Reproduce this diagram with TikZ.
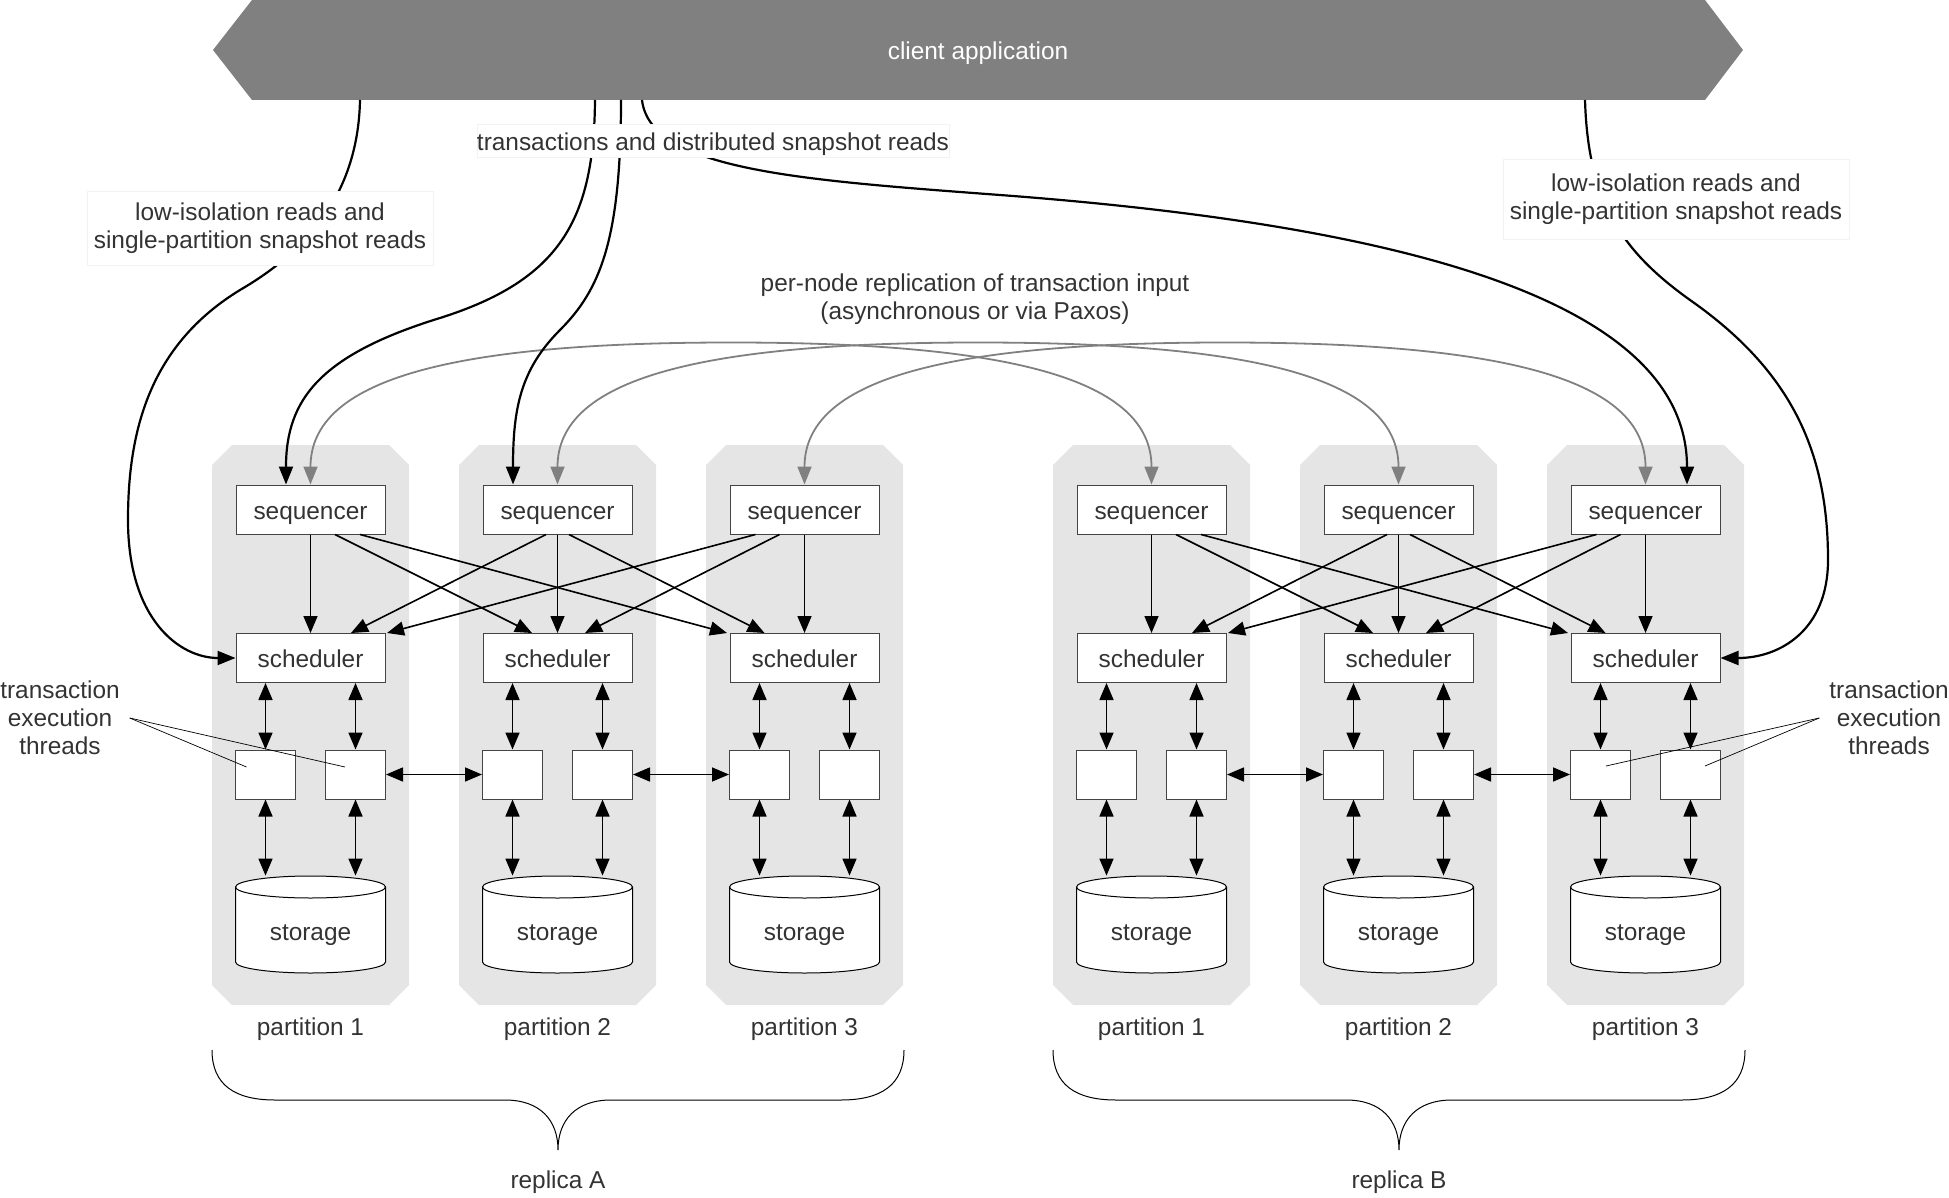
\documentclass[tikz,border=0pt]{standalone}
\usepackage{fontspec}
\setmainfont{Liberation Sans}
\usetikzlibrary{arrows.meta,calc}
\definecolor{banner}{HTML}{808080}
\definecolor{colfill}{HTML}{E5E5E5}
\definecolor{txt}{HTML}{333333}
\definecolor{edge}{HTML}{444444}

\begin{document}
\begin{tikzpicture}[x=0.5pt, y=-0.5pt, font=\fontsize{12.2}{14}\selectfont, text=txt,
		>={Triangle[length=8.5pt,width=7pt]},
		line/.style={text height=9.8pt, text depth=0pt},
		box/.style={line, draw=edge, fill=white, line width=0.5pt, minimum width=74.5pt, minimum height=24.5pt, inner sep=0pt},
		thread/.style={draw=edge, fill=white, line width=0.5pt, minimum width=30pt, minimum height=24.5pt, inner sep=0pt},
		store/.style={minimum width=75pt, minimum height=48.5pt, inner sep=0pt, text height=16.3pt, text depth=0pt},
		cyl/.style={draw=black, fill=white, line width=0.5pt},
		col/.style={fill=colfill},
		link/.style={line width=0.8pt},
		req/.style={line width=1.1pt, -{Triangle[length=9pt,width=7pt]}},
		repl/.style={draw=banner, line width=0.9pt, {Triangle[length=9pt,width=7pt]}-{Triangle[length=9pt,width=7pt]}},
		lbl/.style={fill=white, draw=black!5, inner sep=0pt, align=center},
		ptr/.style={line width=0.35pt},
		brace/.style={line width=0.5pt}]
		\useasboundingbox (0,0) rectangle (1949,1198);

		% Client
		\fill[banner] (213,50) -- (252,0) -- (1705,0) -- (1743,50) -- (1705,100) -- (252,100) -- cycle;
		\node[line, text=white] at (978,50) (client) {client application};
		\coordinate (cA) at (360,100);
		\coordinate (c1) at (595,100);
		\coordinate (c2) at (621,100);
		\coordinate (c3) at (642,100);
		\coordinate (cB) at (1585,100);

		% Partitions
		\foreach \r/\x in {A/0,B/841} {
			\foreach \i in {1,2,3} {
				\pgfmathsetmacro\cx{63.5+247*\i+\x}
				\fill[col] ({\cx-98.5},465) -- ({\cx-78.5},445) -- ({\cx+78.5},445) -- ({\cx+98.5},465)
					-- ({\cx+98.5},985) -- ({\cx+78.5},1005) -- ({\cx-78.5},1005) -- ({\cx-98.5},985) -- cycle;
				\node[box] at (\cx,509.5) (seq\r\i) {sequencer};
				\node[box] at (\cx,658) (sch\r\i) {scheduler};
				\node[thread] at ({\cx-45},774.5) (thl\r\i) {};
				\node[thread] at ({\cx+45},774.5) (thr\r\i) {};
				\draw[cyl] ({\cx-75},887) -- ({\cx-75},962) arc[start angle=180, end angle=0, x radius=75, y radius=11]
					-- ({\cx+75},887) arc[start angle=0, end angle=-180, x radius=75, y radius=11] -- cycle;
				\draw[cyl] ({\cx-75},887) arc[start angle=180, end angle=0, x radius=75, y radius=11];
				\node[store] at (\cx,924.5) (sto\r\i) {storage};
				\node[line] at (\cx,1025.5) (par\r\i) {partition \i};
				\draw[link, <->] (sch\r\i.south -| thl\r\i) -- (thl\r\i);
				\draw[link, <->] (sch\r\i.south -| thr\r\i) -- (thr\r\i);
				\draw[link, <->] (thl\r\i) -- (sto\r\i.north -| thl\r\i);
				\draw[link, <->] (thr\r\i) -- (sto\r\i.north -| thr\r\i);
			}
			\foreach \i/\j/\s/\e in {1/1/0/0, 1/2/24.5/-25.5, 1/3/49.5/-77.5, 2/1/-11.5/40.5, 2/2/0/0,
					2/3/11.5/-40, 3/1/-49/76.5, 3/2/-25/27.5, 3/3/0/0}
				\draw[link, ->] ($(seq\r\i.south)+(\s,0)$) -- ($(sch\r\j.north)+(\e,0)$);
			\draw[link, <->] (thr\r1) -- (thl\r2);
			\draw[link, <->] (thr\r2) -- (thl\r3);

			% Accolade
			\draw[brace] ({\x+212},1050) .. controls ({\x+212},1085) and ({\x+235},1100) .. ({\x+275},1100)
				-- ({\x+505},1100) .. controls ({\x+540},1100) and ({\x+558},1120) .. ({\x+558},1150)
				.. controls ({\x+558},1120) and ({\x+576},1100) .. ({\x+611},1100)
				-- ({\x+841},1100) .. controls ({\x+881},1100) and ({\x+904},1085) .. ({\x+904},1050);
			\node[line] at ({\x+558},1179) (rep\r) {replica \r};
		}

		% Replication
		\foreach \i in {1,2,3}
			\draw[repl] (seqA\i.north) .. controls +(0,-105) and +(-281,0) ..
				($(seqA\i.north)!.5!(seqB\i.north)+(0,-142)$) .. controls +(281,0) and +(0,-105) .. (seqB\i.north);
		\node[align=center] at (975,299) (rtxt) {per-node replication of transaction input\\(asynchronous or via Paxos)};

		% Requetes
		\draw[req] (c1) .. controls (594,220) and (560,280) .. (440,318)
			.. controls (320,355) and ($(seqA1.north)+(-24.5,-85)$) .. ($(seqA1.north)+(-24.5,0)$);
		\draw[req] (c2) .. controls (621,240) and (600,290) .. (560,330)
			.. controls (520,370) and ($(seqA2.north)+(-44.5,-75)$) .. ($(seqA2.north)+(-44.5,0)$);
		\draw[req] (c3) .. controls (650,170) and (800,180) .. (1000,195)
			.. controls (1400,225) and ($(seqB3.north)+(41.5,-185)$) .. ($(seqB3.north)+(41.5,0)$);
		\draw[req] (cA) .. controls (358,200) and (300,255) .. (240,290)
			.. controls (150,345) and (128,430) .. (128,520) .. controls (128,620) and (180,658) .. (schA1.west);
		\draw[req] (cB) .. controls (1588,200) and (1620,250) .. (1690,300)
			.. controls (1790,370) and (1828,450) .. (1828,560) .. controls (1828,630) and (1780,658) .. (schB3.east);

		% Etiquettes
		\node[lbl, line, minimum height=16.5pt] at (713,140.5) (txn) {transactions and distributed snapshot reads};
		\node[lbl, minimum width=173pt, minimum height=37pt] at (260,228) (lowA) {low-isolation reads and\\single-partition snapshot reads};
		\node[lbl, minimum width=173pt, minimum height=40pt] at (1676,199.5) (lowB) {low-isolation reads and\\single-partition snapshot reads};

		% Threads
		\node[align=center] at (60,718) (thA) {transaction\\execution\\threads};
		\node[align=center] at (1889,718) (thB) {transaction\\execution\\threads};
		\draw[ptr] ([xshift=1.5pt]thA.east) -- ($(thlA1)+(-19,-7.5)$);
		\draw[ptr] ([xshift=1.5pt]thA.east) -- ($(thrA1)+(-10.5,-7.5)$);
		\draw[ptr] ([xshift=-1.5pt]thB.west) -- ($(thlB3)+(5.5,-8.5)$);
		\draw[ptr] ([xshift=-1.5pt]thB.west) -- ($(thrB3)+(14.5,-8.5)$);
\end{tikzpicture}
\end{document}
